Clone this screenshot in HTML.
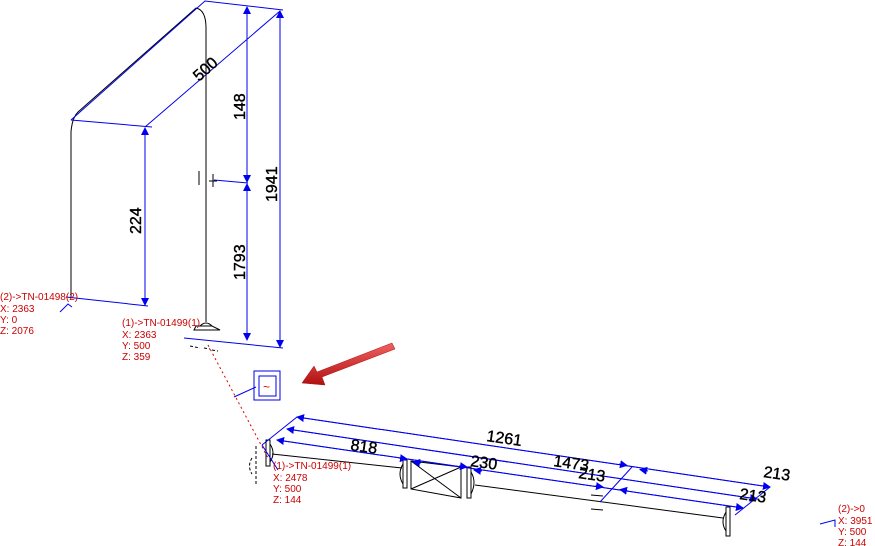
<!DOCTYPE html>
<html><head><meta charset="utf-8"><style>
html,body{margin:0;padding:0;background:#fff;width:875px;height:546px;overflow:hidden}
svg{display:block}
.r{fill:#cc0000;font-family:"Liberation Sans",sans-serif;font-size:10px}
.d{fill:#000;stroke:#000;stroke-width:0.4;font-family:"Liberation Sans",sans-serif;font-size:16px}
</style></head><body>
<svg width="875" height="546" viewBox="0 0 875 546" xmlns="http://www.w3.org/2000/svg">
<defs>
<marker id="a" markerWidth="8" markerHeight="10" refX="7" refY="5" orient="auto" markerUnits="userSpaceOnUse">
<path d="M0,1 L8,5 L0,9 z" fill="#0000ee"/></marker>
<linearGradient id="g" x1="0" y1="0" x2="0" y2="1"><stop offset="0" stop-color="#f06060"/><stop offset="1" stop-color="#b01010"/></linearGradient>
</defs>
<g fill="none" stroke="#000" stroke-width="1">
<path d="M71,297 L71,132 Q72,118 78,112 L196,8 Q206,10 206,28 L206,322"/>
<path d="M196,326 L212,326 L220,330 L194,330 z M200,326 Q206,320 212,326"/>
<path d="M190,346 l10,2 M204,348 l6,1 M212,350 l6,1" stroke-dasharray="3,2"/>
<line x1="199" y1="171" x2="199" y2="185"/><line x1="213" y1="174" x2="213" y2="187"/>
<line x1="209" y1="181" x2="217" y2="181"/>
<rect x="266" y="440" width="4" height="26"/>
<path d="M270,444 Q276,453 270,462"/>
<line x1="272" y1="454" x2="402" y2="468"/>
<rect x="403" y="460" width="4" height="28"/>
<path d="M403,464 Q397,474 403,484"/>
<path d="M411,461 L461,467 L461,498 L411,489 z M411,461 L461,498 M461,467 L411,489"/>
<rect x="467" y="467" width="4" height="31"/>
<path d="M471,472 Q477,482 471,494"/>
<line x1="475" y1="485" x2="723" y2="518"/>
<line x1="591" y1="495" x2="603" y2="496"/><line x1="591" y1="509" x2="603" y2="510"/>
<rect x="726" y="507" width="4" height="29"/>
<path d="M726,512 Q720,522 726,531"/>
<path d="M252,458 Q247,466 252,474 M256,446 L256,486" stroke-dasharray="3,2"/>
</g>
<g fill="none" stroke="#0000ee" stroke-width="1">
<path d="M71,120 L205,1 L283,10 M71,120 L152,127 M145,127 L280,11"/>
<line x1="145" y1="305" x2="145" y2="128" marker-end="url(#a)"/>
<line x1="145" y1="128" x2="145" y2="305" marker-end="url(#a)"/>
<line x1="247" y1="170" x2="247" y2="7" marker-end="url(#a)"/>
<line x1="247" y1="7" x2="247" y2="182" marker-end="url(#a)"/>
<line x1="247" y1="340" x2="247" y2="184" marker-end="url(#a)"/>
<line x1="247" y1="184" x2="247" y2="340" marker-end="url(#a)"/>
<line x1="280" y1="347" x2="280" y2="11" marker-end="url(#a)"/>
<line x1="280" y1="11" x2="280" y2="347" marker-end="url(#a)"/>
<line x1="214" y1="180" x2="248" y2="183"/>
<path d="M66,297 L148,306 M184,338 L283,348"/>
<path d="M60,312 L68,304 L72,307"/>
<path d="M234,397 L256,387"/>
<rect x="254" y="371" width="26" height="29"/><rect x="259" y="376" width="17" height="20"/>
<path d="M262,445 L297,417 M735,515 L770,487 M600,502 L632,467 M262,445 L278,470"/>
<line x1="297" y1="417" x2="770" y2="487" marker-end="url(#a)"/>
<line x1="770" y1="487" x2="297" y2="417" marker-end="url(#a)"/>
<line x1="287" y1="429" x2="757" y2="499" marker-end="url(#a)"/>
<line x1="757" y1="499" x2="287" y2="429" marker-end="url(#a)"/>
<line x1="277" y1="440" x2="743" y2="508" marker-end="url(#a)"/>
<line x1="743" y1="508" x2="277" y2="440" marker-end="url(#a)"/>
<!-- intermediate arrowheads -->
<line x1="619" y1="464" x2="627" y2="465.5" marker-end="url(#a)"/>
<line x1="648" y1="471" x2="640" y2="469.5" marker-end="url(#a)"/>
<line x1="595" y1="486" x2="603" y2="487" marker-end="url(#a)"/>
<line x1="628" y1="491" x2="620" y2="489.5" marker-end="url(#a)"/>
<line x1="399" y1="458" x2="407" y2="459" marker-end="url(#a)"/>
<line x1="421" y1="463" x2="413" y2="462" marker-end="url(#a)"/>
<line x1="459" y1="466" x2="467" y2="467" marker-end="url(#a)"/>
<line x1="482" y1="471" x2="474" y2="470" marker-end="url(#a)"/>
<path d="M820,524 L835,520 L835,527"/>
</g>
<line x1="208" y1="345" x2="268" y2="458" stroke="#dd0000" stroke-dasharray="2,3"/>
<text x="263" y="391" fill="#dd0000" font-size="12" font-family="Liberation Sans">~</text>
<path d="M392,343 L395,349 L322,377 L325,385 L302,383 L314,366 L317,372 z" fill="url(#g)" stroke="#aa1010" stroke-width="0.5"/>
<g class="d">
<text transform="translate(141,234) rotate(-90)">224</text>
<text transform="translate(245,120) rotate(-90)">148</text>
<text transform="translate(245,280) rotate(-90)">1793</text>
<text transform="translate(277,202) rotate(-90)">1941</text>
<text transform="translate(199,82) rotate(-42)">500</text>
<text transform="translate(486,441) rotate(8)">1261</text>
<text transform="translate(350,450) rotate(8)">818</text>
<text transform="translate(470,466) rotate(8)">230</text>
<text transform="translate(553,466) rotate(8)">1473</text>
<text transform="translate(578,478) rotate(8)">213</text>
<text transform="translate(763,477) rotate(8)">213</text>
<text transform="translate(739,499) rotate(8)">213</text>
</g>
<g class="r">
<text x="0" y="300">(2)-&gt;TN-01498(2)</text>
<text x="0" y="312">X:  2363</text><text x="0" y="323">Y:  0</text><text x="0" y="334">Z:  2076</text>
<text x="122" y="326">(1)-&gt;TN-01499(1)</text>
<text x="122" y="338">X:  2363</text><text x="122" y="349">Y:  500</text><text x="122" y="360">Z:  359</text>
<text x="273" y="469">(1)-&gt;TN-01499(1)</text>
<text x="273" y="481">X:  2478</text><text x="273" y="492">Y:  500</text><text x="273" y="503">Z:  144</text>
<text x="838" y="512">(2)-&gt;0</text>
<text x="838" y="524">X:  3951</text><text x="838" y="535">Y:  500</text><text x="838" y="546">Z:  144</text>
</g>
</svg>
</body></html>
